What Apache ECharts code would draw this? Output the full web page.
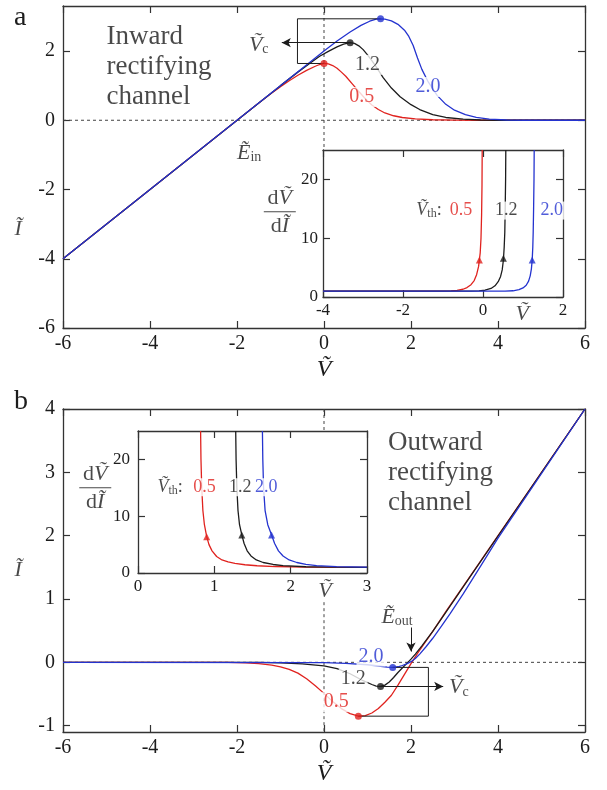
<!DOCTYPE html>
<html>
<head>
<meta charset="utf-8">
<script src="https://cdn.jsdelivr.net/npm/echarts@6/dist/echarts.min.js"></script>
<style>
  html, body { margin: 0; padding: 0; background: #fff; }
  #chart { width: 607px; height: 790px; }
</style>
</head>
<body>
<div id="chart"></div>
<script>
  // ---- data ----
  // panel a: inward rectifying channel, I-V curves for V_th = 0.5, 1.2, 2.0
  const redA = [[-6,-4],[-1.5,0.5],[-1.2,0.79],[-1,0.97],[-0.8,1.14],[-0.6,1.3],[-0.4,1.44],[-0.2,1.56],[-0.1,1.61],[0,1.64],[0.1,1.63],[0.2,1.58],[0.3,1.5],[0.4,1.39],[0.5,1.27],[0.65,1.05],[0.8,0.83],[0.95,0.62],[1.1,0.44],[1.25,0.31],[1.4,0.21],[1.6,0.13],[1.8,0.08],[2.1,0.04],[2.5,0.015],[3,0.003],[3.5,0],[6,0]]
  const blackA = [[-6,-4],[-1,1],[-0.6,1.39],[-0.3,1.67],[-0.1,1.85],[0.1,1.99],[0.3,2.12],[0.45,2.2],[0.6,2.24],[0.7,2.22],[0.8,2.15],[0.9,2.04],[1,1.89],[1.1,1.72],[1.2,1.54],[1.36,1.23],[1.55,0.93],[1.75,0.68],[2,0.45],[2.2,0.31],[2.5,0.16],[2.8,0.08],[3.2,0.03],[3.6,0.008],[4,0],[6,0]]
  const blueA = [[-6,-4],[0,2],[0.3,2.29],[0.6,2.55],[0.85,2.74],[1.05,2.86],[1.2,2.92],[1.3,2.93],[1.4,2.92],[1.55,2.87],[1.7,2.77],[1.85,2.6],[1.95,2.42],[2.05,2.16],[2.15,1.8],[2.25,1.47],[2.4,1.1],[2.6,0.72],[2.8,0.46],[3,0.29],[3.25,0.16],[3.5,0.085],[3.8,0.035],[4.2,0.008],[4.6,0],[6,0]]
  const peaksA = [[0,1.64],[0.6,2.24],[1.3,2.93]]
  // inset a: dV/dI vs V
  const inRedA = [[-4,1],[-1,1],[-0.8,1.04],[-0.65,1.12],[-0.5,1.32],[-0.4,1.6],[-0.3,2.1],[-0.22,2.8],[-0.16,3.8],[-0.11,5.2],[-0.07,7.5],[-0.05,10],[-0.035,14],[-0.025,19],[-0.02,25]]
  const inBlackA = [[-4,1],[-0.3,1],[-0.1,1.05],[0.05,1.15],[0.2,1.45],[0.3,1.9],[0.38,2.6],[0.44,3.5],[0.48,4.6],[0.51,6.3],[0.53,8.5],[0.545,11],[0.555,15],[0.565,20],[0.57,25]]
  const inBlueA = [[-4,1],[0.55,1],[0.75,1.06],[0.9,1.25],[1,1.55],[1.08,2],[1.14,2.7],[1.18,3.6],[1.21,4.8],[1.23,6.3],[1.245,8.5],[1.255,11],[1.265,15],[1.275,20],[1.28,25]]
  const arrowsInA = [[-0.09,6.3],[0.51,6.6],[1.23,6.3]]

  // panel b: outward rectifying channel
  const redB = [[-6,0],[-2.2,0],[-1.8,-0.01],[-1.5,-0.02],[-1.2,-0.045],[-1,-0.07],[-0.8,-0.11],[-0.6,-0.17],[-0.4,-0.26],[-0.2,-0.37],[0,-0.49],[0.2,-0.62],[0.4,-0.73],[0.6,-0.81],[0.79,-0.85],[0.95,-0.84],[1.1,-0.8],[1.25,-0.73],[1.4,-0.63],[1.55,-0.52],[1.7,-0.36],[1.85,-0.19],[2,-0.02],[2.15,0.14],[2.3,0.29],[2.5,0.49],[2.8,0.8],[3.2,1.2],[6,4]]
  const blackB = [[-6,0],[-1.5,0],[-1,-0.01],[-0.5,-0.025],[0,-0.055],[0.3,-0.1],[0.6,-0.18],[0.9,-0.29],[1.1,-0.35],[1.2,-0.375],[1.3,-0.38],[1.4,-0.36],[1.5,-0.31],[1.6,-0.24],[1.7,-0.16],[1.8,-0.09],[1.9,-0.02],[2,0.05],[2.1,0.13],[2.25,0.26],[2.5,0.49],[2.8,0.79],[3.2,1.19],[6,4]]
  const blueB = [[-6,0],[0,-0.005],[0.5,-0.015],[1,-0.038],[1.3,-0.062],[1.45,-0.075],[1.58,-0.08],[1.7,-0.07],[1.8,-0.05],[1.9,-0.025],[2,0.01],[2.1,0.06],[2.2,0.13],[2.35,0.25],[2.5,0.38],[2.7,0.57],[2.9,0.77],[3.2,1.08],[3.6,1.52],[4,1.96],[6,4]]
  const peaksB = [[0.79,-0.85],[1.3,-0.38],[1.58,-0.08]]
  const inRedB = [[0.82,25],[0.825,20],[0.835,15],[0.85,11],[0.87,8.5],[0.9,6.4],[0.93,5],[0.97,3.9],[1.03,2.9],[1.1,2.3],[1.18,1.95],[1.27,1.68],[1.4,1.45],[1.56,1.28],[1.8,1.14],[2.2,1.05],[3,1]]
  const inBlackB = [[1.28,25],[1.285,20],[1.295,15],[1.31,11],[1.33,8.5],[1.36,6.7],[1.39,5.2],[1.43,3.9],[1.48,3],[1.55,2.3],[1.64,1.85],[1.77,1.5],[1.9,1.3],[2.2,1.1],[2.6,1.02],[3,1]]
  const inBlueB = [[1.63,25],[1.635,20],[1.645,15],[1.665,11],[1.7,8.5],[1.75,6.7],[1.79,5.2],[1.84,3.9],[1.9,3],[1.98,2.3],[2.08,1.85],[2.2,1.52],[2.34,1.3],[2.6,1.12],[3,1.03]]
  const arrowsInB = [[0.9,6.4],[1.36,6.7],[1.75,6.7]]

  // tick values
  const ticksV = [-6, -4, -2, 0, 2, 4, 6]
  const ticksIa = [-6, -4, -2, 0, 2]
  const ticksIb = [-1, 0, 1, 2, 3, 4]
  const ticksInAx = [-4, -2, 0, 2]
  const ticksInBx = [0, 1, 2, 3]
  const ticksInY = [0, 10, 20]
  const vthLabels = ['0.5', '1.2', '2.0']

  const SERIF = "'Liberation Serif','DejaVu Serif',serif"
  const INK = '#1c1c1c'
  const COLORS = ['#e0221e', '#1c1c1c', '#2433cf']

  const RICH = {
    v: { fontFamily: SERIF, fontStyle: 'italic', fontSize: 22 },
    s: { fontFamily: SERIF, fontSize: 14, padding: [9, 0, 0, 0] },
    vs: { fontFamily: SERIF, fontStyle: 'italic', fontSize: 18 },
    ss: { fontFamily: SERIF, fontSize: 12, padding: [7, 0, 0, 0] },
    d: { fontFamily: SERIF, fontSize: 22 },
    bar: { width: 32, height: 1, backgroundColor: INK, lineHeight: 4 }
  }

  function axisPair(kind, grid, min, max, ticks, fs, margin) {
    const base = {
      type: 'value', gridIndex: grid, min: min, max: max,
      axisLine: { show: true, onZero: false, lineStyle: { color: '#333', width: 1.3 } },
      axisTick: { show: true, inside: true, length: 7, customValues: ticks, lineStyle: { color: '#333', width: 1.2 } },
      splitLine: { show: false }
    }
    const main = Object.assign({}, base, {
      position: kind === 'x' ? 'bottom' : 'left',
      axisLabel: { customValues: ticks, fontSize: fs, margin: margin, color: INK, fontFamily: SERIF }
    })
    const mirror = Object.assign({}, base, {
      position: kind === 'x' ? 'top' : 'right',
      axisLabel: { show: false }
    })
    return [main, mirror]
  }

  function curve(ax, data, color, z) {
    return {
      type: 'line', xAxisIndex: ax, yAxisIndex: ax, data: data, symbol: 'none',
      smooth: false, z: z || 2,
      lineStyle: { color: color, width: 1.3 }
    }
  }

  function dashed(ax, data) {
    return {
      type: 'line', xAxisIndex: ax, yAxisIndex: ax, data: data, symbol: 'none', z: 1,
      lineStyle: { color: '#444', width: 1, type: [3, 3] }
    }
  }

  function dots(ax, data, symbol, size) {
    return data.map((p, i) => ({
      type: 'scatter', xAxisIndex: ax, yAxisIndex: ax, data: [p], symbol: symbol,
      symbolSize: size, z: 5, itemStyle: { color: COLORS[i] }
    }))
  }

  function textAt(ax, pos, text, opt) {
    return {
      type: 'scatter', xAxisIndex: ax, yAxisIndex: ax, data: [pos], symbolSize: 0,
      silent: true, clip: false, z: 6,
      label: Object.assign({
        show: true, position: 'inside', formatter: text, fontFamily: SERIF,
        fontSize: 20, color: INK, rich: RICH
      }, opt || {})
    }
  }

  function bracket(ax, data, arrows) {
    return {
      type: 'line', xAxisIndex: ax, yAxisIndex: ax, data: data, symbol: 'none', z: 3,
      lineStyle: { color: INK, width: 1 },
      markLine: {
        silent: true, symbol: ['none', 'arrow'], symbolSize: [7, 9],
        lineStyle: { color: INK, width: 1, type: 'solid' }, label: { show: false },
        data: arrows.map(a => [{ coord: a[0] }, { coord: a[1] }])
      }
    }
  }

  const labelBg = { backgroundColor: '#fff', padding: [0, 2] }

  const xAxes = [].concat(
    axisPair('x', 0, -6, 6, ticksV, 20, 6),
    axisPair('x', 1, -4, 2, ticksInAx, 17, 5),
    axisPair('x', 2, -6, 6, ticksV, 20, 6),
    axisPair('x', 3, 0, 3, ticksInBx, 17, 5)
  )
  const yAxes = [].concat(
    axisPair('y', 0, -6, 3.3, ticksIa, 20, 8),
    axisPair('y', 1, 0, 25, ticksInY, 17, 5),
    axisPair('y', 2, -1.1, 4, ticksIb, 20, 8),
    axisPair('y', 3, 0, 25, ticksInY, 17, 8)
  )
  xAxes[0].name = 'Ṽ'; xAxes[4].name = 'Ṽ'
  ;[0, 4].forEach(i => {
    xAxes[i].nameLocation = 'middle'
    xAxes[i].nameGap = 30
    xAxes[i].nameTextStyle = { fontFamily: SERIF, fontStyle: 'italic', fontSize: 24, color: INK }
  })

  const series = [
    // panel a
    dashed(0, [[-6, 0], [6, 0]]),
    dashed(0, [[0, 3.3], [0, -0.87]]),
    curve(0, redA, COLORS[0]),
    curve(0, blackA, COLORS[1]),
    curve(0, blueA, COLORS[2]),
    bracket(0, [[1.3, 2.93], [-0.61, 2.93], [-0.61, 1.64], [0, 1.64]], [[[0.6, 2.24], [-0.97, 2.24]]]),
    ...dots(0, peaksA, 'circle', 7),
    textAt(0, [-5, 1.54], 'Inward\nrectifying\nchannel', { position: 'right', distance: 0, fontSize: 27, lineHeight: 30 }),
    textAt(0, [-1.5, 2.17], '{v|Ṽ}{s|c}'),
    textAt(0, [-1.72, -0.95], '{v|Ẽ}{s|in}'),
    textAt(0, [0.87, 0.67], vthLabels[0], Object.assign({ color: COLORS[0] }, labelBg)),
    textAt(0, [1.0, 1.6], vthLabels[1], Object.assign({ color: COLORS[1] }, labelBg)),
    textAt(0, [2.39, 0.96], vthLabels[2], Object.assign({ color: COLORS[2] }, labelBg)),
    textAt(0, [-7.03, -3.16], '{v|Ĩ}'),
    // inset a
    curve(2, inRedA, COLORS[0]),
    curve(2, inBlackA, COLORS[1]),
    curve(2, inBlueA, COLORS[2]),
    ...dots(2, arrowsInA, 'triangle', 7),
    textAt(2, [-1.35, 14.7], '{vs|Ṽ}{ss|th}:', { fontSize: 18 }),
    textAt(2, [-0.55, 14.7], vthLabels[0], Object.assign({ color: COLORS[0], fontSize: 18 }, labelBg)),
    textAt(2, [0.58, 14.7], vthLabels[1], Object.assign({ color: COLORS[1], fontSize: 18 }, labelBg)),
    textAt(2, [1.72, 14.7], vthLabels[2], Object.assign({ color: COLORS[2], fontSize: 18 }, labelBg)),
    textAt(2, [0.98, -3.0], '{v|Ṽ}'),
    textAt(2, [-5.08, 14.5], '{d|d}{v|Ṽ}\n{bar|}\n{d|d}{v|Ĩ}', { align: 'center', lineHeight: 24 }),
    // panel b
    dashed(4, [[-6, 0], [6, 0]]),
    dashed(4, [[0, 4], [0, 3.65]]),
    dashed(4, [[0, 0.95], [0, -1.1]]),
    curve(4, redB, COLORS[0]),
    curve(4, blackB, COLORS[1]),
    curve(4, blueB, COLORS[2]),
    bracket(4, [[1.58, -0.08], [2.4, -0.08], [2.4, -0.85], [0.79, -0.85]], [[[1.3, -0.38], [2.74, -0.38]], [[2.0, 0.55], [2.0, 0.17]]]),
    ...dots(4, peaksB, 'circle', 7),
    textAt(4, [1.47, 2.99], 'Outward\nrectifying\nchannel', { position: 'right', distance: 0, fontSize: 27, lineHeight: 30 }),
    textAt(4, [3.1, -0.4], '{v|Ṽ}{s|c}'),
    textAt(4, [1.68, 0.72], '{v|Ẽ}{s|out}'),
    textAt(4, [0.28, -0.63], vthLabels[0], Object.assign({ color: COLORS[0] }, labelBg)),
    textAt(4, [0.67, -0.26], vthLabels[1], Object.assign({ color: COLORS[1] }, labelBg)),
    textAt(4, [1.08, 0.09], vthLabels[2], Object.assign({ color: COLORS[2] }, labelBg)),
    textAt(4, [-7.03, 1.46], '{v|Ĩ}'),
    // inset b
    curve(6, inRedB, COLORS[0]),
    curve(6, inBlackB, COLORS[1]),
    curve(6, inBlueB, COLORS[2]),
    ...dots(6, arrowsInB, 'triangle', 7),
    textAt(6, [0.42, 15.1], '{vs|Ṽ}{ss|th}:', { fontSize: 18 }),
    textAt(6, [0.87, 15.1], vthLabels[0], Object.assign({ color: COLORS[0], fontSize: 18 }, labelBg)),
    textAt(6, [1.34, 15.1], vthLabels[1], Object.assign({ color: COLORS[1], fontSize: 18 }, labelBg)),
    textAt(6, [1.68, 15.1], vthLabels[2], Object.assign({ color: COLORS[2], fontSize: 18 }, labelBg)),
    textAt(6, [2.45, -3.2], '{v|Ṽ}'),
    textAt(6, [-0.56, 15], '{d|d}{v|Ṽ}\n{bar|}\n{d|d}{v|Ĩ}', { align: 'center', lineHeight: 24 })
  ]

  // axis indices: 0/1 panel a, 2/3 inset a, 4/5 panel b, 6/7 inset b
  series.forEach(s => {
    s.animation = false
  })

  const chart = echarts.init(document.getElementById('chart'), null, { renderer: 'canvas' })
  chart.setOption({
    animation: false,
    backgroundColor: '#fff',
    grid: [
      { left: 63, top: 6, width: 522, height: 322 },
      { left: 323, top: 150, width: 240, height: 147, show: true, backgroundColor: '#fff', borderWidth: 0 },
      { left: 63, top: 409, width: 522, height: 323 },
      { left: 138, top: 431, width: 229, height: 142, show: true, backgroundColor: '#fff', borderWidth: 0 }
    ],
    xAxis: xAxes,
    yAxis: yAxes,
    graphic: [
      { type: 'text', left: 14, top: 4, style: { text: 'a', font: '28px ' + SERIF, fill: INK } },
      { type: 'text', left: 14, top: 388, style: { text: 'b', font: '28px ' + SERIF, fill: INK } }
    ],
    series: series
  })
</script>
</body>
</html>
